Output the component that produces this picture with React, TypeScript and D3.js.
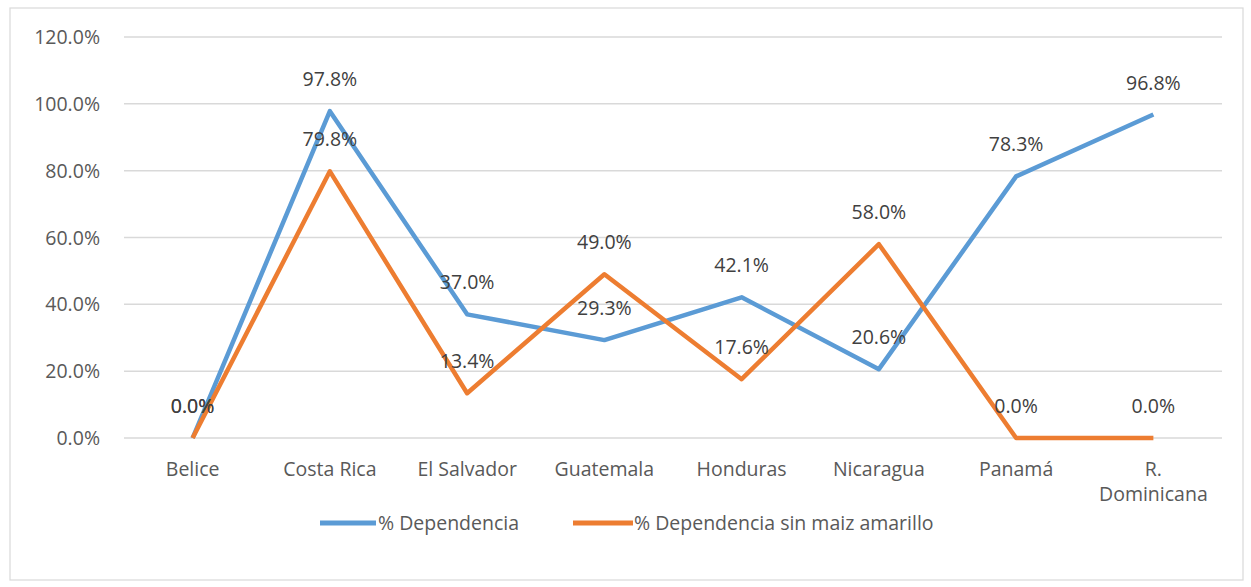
import React from "react";
import * as d3 from "d3";

const categories = ["Belice", "Costa Rica", "El Salvador", "Guatemala", "Honduras", "Nicaragua", "Panamá", "R. Dominicana"];
const dependencia = [0.0, 97.8, 37.0, 29.3, 42.1, 20.6, 78.3, 96.8];
const sinMaiz = [0.0, 79.8, 13.4, 49.0, 17.6, 58.0, 0.0, 0.0];
const yTicks = [0, 20, 40, 60, 80, 100, 120];
const seriesNames = ["% Dependencia", "% Dependencia sin maiz amarillo"];
const colors = ["#5B9BD5", "#ED7D31"];

export default function App() {
  const W = 1251, H = 587;
  const left = 124, right = 1222, top = 37, bottom = 438;
  const x = d3.scaleBand<string>().domain(categories).range([left, right]);
  const y = d3.scaleLinear().domain([0, 120]).range([bottom, top]);
  const cx = (c: string) => (x(c) as number) + x.bandwidth() / 2;
  const line = d3.line<number>().x((_, i) => cx(categories[i])).y((d) => y(d));
  const font = "'Open Sans', 'Noto Sans', sans-serif";
  const fs = 19.5;
  const series = [dependencia, sinMaiz];
  return (
    <svg width={W} height={H} style={{ position: "absolute", left: 0, top: 0, background: "#fff" }} fontFamily={font}>
      <rect x={10} y={8} width={1233} height={572} fill="#fff" stroke="#d9d9d9" strokeWidth={1.2} />
      {yTicks.map((t) => (
        <g key={t}>
          <line x1={left} x2={right} y1={y(t)} y2={y(t)} stroke="#d9d9d9" strokeWidth={1.5} />
          <text x={100} y={y(t) + 7} textAnchor="end" fontSize={fs} fill="#595959">
            {t.toFixed(1)}%
          </text>
        </g>
      ))}
      {categories.map((c) => {
        const parts = c === "R. Dominicana" ? ["R.", "Dominicana"] : [c];
        return (
          <text key={c} x={cx(c)} y={476} textAnchor="middle" fontSize={fs} fill="#595959">
            {parts.map((p, i) => (
              <tspan key={i} x={cx(c)} dy={i === 0 ? 0 : 25}>{p}</tspan>
            ))}
          </text>
        );
      })}
      {series.map((s, k) => (
        <path key={k} d={line(s) as string} fill="none" stroke={colors[k]} strokeWidth={4.5} strokeLinejoin="round" />
      ))}
      {series.map((s, k) =>
        s.map((v, i) => (
          <text key={`${k}-${i}`} x={cx(categories[i])} y={y(v) - 25} textAnchor="middle" fontSize={fs} fill="#404040">
            {v.toFixed(1)}%
          </text>
        ))
      )}
      <g>
        <line x1={320} x2={376} y1={523} y2={523} stroke={colors[0]} strokeWidth={5} />
        <text x={378} y={530} fontSize={fs} fill="#595959">{seriesNames[0]}</text>
        <line x1={573} x2={633} y1={523} y2={523} stroke={colors[1]} strokeWidth={5} />
        <text x={634} y={530} fontSize={fs} fill="#595959">{seriesNames[1]}</text>
      </g>
    </svg>
  );
}
